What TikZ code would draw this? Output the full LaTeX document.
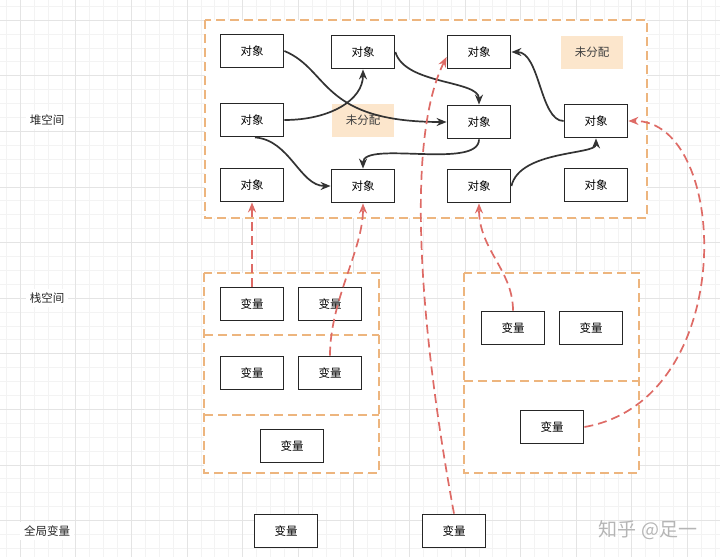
\documentclass[tikz,border=0pt]{standalone}
\usepackage{fontspec}
\setmainfont{Noto Sans CJK SC}
\usetikzlibrary{arrows.meta}

\definecolor{arealine}{HTML}{EDB57E}
\definecolor{refred}{HTML}{DE6B66}
\definecolor{freefill}{HTML}{FCE6CC}
\definecolor{gridminor}{HTML}{F3F3F3}
\definecolor{gridmajor}{HTML}{E4E4E4}
\definecolor{marktext}{HTML}{B5B5B5}

\begin{document}
\begin{tikzpicture}[x=1pt, y=-1pt,
    obj/.style={draw=black!85, line width=1.8pt, fill=white, minimum width=63pt,
      minimum height=33pt, inner sep=0pt, font=\fontsize{11.5}{13}\selectfont},
    free/.style={fill=freefill, minimum width=62pt, minimum height=33pt, inner sep=0pt,
      text=black!75, font=\fontsize{11.5}{13}\selectfont},
    area/.style={draw=arealine, line width=1.5pt, dash pattern=on 9pt off 5pt, fill=white},
    tag/.style={fill=white, inner sep=4pt, text=black!85, font=\fontsize{11.5}{14}\selectfont},
    link/.style={draw=black!80, line width=1.7pt, -{Stealth[length=10pt,width=8pt]}},
    ref/.style={draw=refred, line width=1.7pt, dash pattern=on 9pt off 5pt,
      -{Stealth[length=10pt,width=8pt]}}]
    \useasboundingbox (0,0) rectangle (720,557);
    % Background grid:
    \foreach \i in {-1,...,50} \draw[gridminor, line width=0.5pt] ({20.1+13.9*\i},0) -- ++(0,557);
    \foreach \i in {-1,...,39} \draw[gridminor, line width=0.5pt] (0,{20+13.9*\i}) -- ++(720,0);
    \foreach \i in {0,...,12} \draw[gridmajor, line width=0.5pt] ({20.1+55.6*\i},0) -- ++(0,557);
    \foreach \i in {0,...,9} \draw[gridmajor, line width=0.5pt] (0,{20+55.6*\i}) -- ++(720,0);

    % Areas:
    \draw[area] (205,20) rectangle (647,218);
    \draw[area] (204,273) rectangle (379,473);
    \draw[area] (204,335) -- (379,335);
    \draw[area] (204,415) -- (379,415);
    \draw[area] (464,273) rectangle (639,473);
    \draw[area] (464,381) -- (639,381);

    % Labels:
    \node[tag] (lheap) at (47,120) {堆空间};
    \node[tag] (lstack) at (47,298) {栈空间};
    \node[tag] (lglobal) at (47,531) {全局变量};
    \node[text=marktext, font=\fontsize{19}{21}\selectfont] (mark) at (648,530) {知乎 @足一};

    % Heap objects:
    \node[obj] (h11) at (252,51) {对象};
    \node[obj] (h12) at (363,52) {对象};
    \node[obj] (h13) at (479,52) {对象};
    \node[free] (f1) at (592,52) {未分配};
    \node[obj] (h21) at (252,120) {对象};
    \node[free] (f2) at (363,120) {未分配};
    \node[obj] (h23) at (479,122) {对象};
    \node[obj] (h24) at (596,121) {对象};
    \node[obj] (h31) at (252,185) {对象};
    \node[obj] (h32) at (363,186) {对象};
    \node[obj] (h33) at (479,186) {对象};
    \node[obj] (h34) at (596,185) {对象};

    % Stack and global variables:
    \node[obj] (s1) at (252,304) {变量};
    \node[obj] (s2) at (330,304) {变量};
    \node[obj] (s3) at (252,373) {变量};
    \node[obj] (s4) at (330,373) {变量};
    \node[obj] (s5) at (292,446) {变量};
    \node[obj] (s6) at (513,328) {变量};
    \node[obj] (s7) at (591,328) {变量};
    \node[obj] (s8) at (552,427) {变量};
    \node[obj] (g1) at (286,531) {变量};
    \node[obj] (g2) at (454,531) {变量};

    % References between objects:
    \draw[link] (h11.east) .. controls (330,70) and (320,122) .. (h23.west);
    \draw[link] (h21.east) .. controls (330,120) and (363,100) .. (h12.south);
    \draw[link] ([xshift=3pt]h21.south) .. controls (290,140) and (300,186) .. (h32.west);
    \draw[link] (h12.east) .. controls (405,85) and (479,80) .. (h23.north);
    \draw[link] (h23.south) .. controls (479,170) and (363,140) .. (h32.north);
    \draw[link] (h24.west) .. controls (540,121) and (540,52) .. (h13.east);
    \draw[link] (h33.east) .. controls (520,150) and (596,155) .. (h24.south);

    % References from roots:
    \draw[ref] (s1.north) -- (h31.south);
    \draw[ref] (s4.north) .. controls (330,300) and (363,250) .. (h32.south);
    \draw[ref] (g2.north) .. controls (420,330) and (405,140) .. ([yshift=-5pt]h13.west);
    \draw[ref] (s6.north) .. controls (513,270) and (479,250) .. (h33.south);
    \draw[ref] (s8.east) .. controls (740,400) and (730,120) .. (h24.east);
\end{tikzpicture}
\end{document}
